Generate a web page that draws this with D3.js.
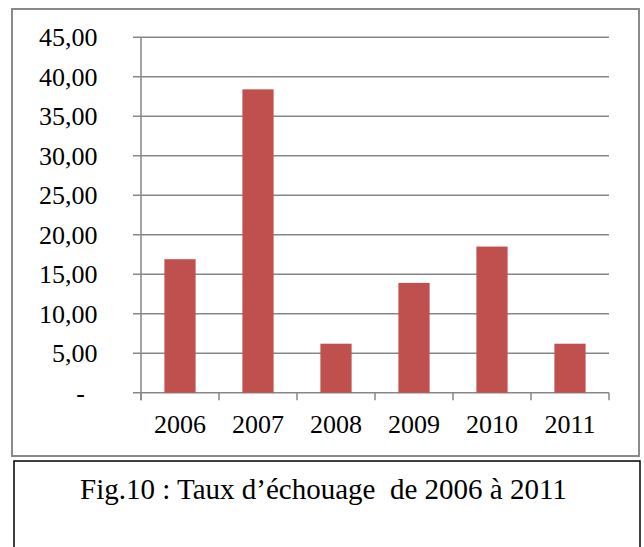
<!DOCTYPE html>
<html>
<head>
<meta charset="utf-8">
<script src="https://cdn.jsdelivr.net/npm/d3@7"></script>
<style>
  body { margin: 0; background: #fff; }
  svg { display: block; }
</style>
</head>
<body>
<script>
"use strict";

var years = ["2006", "2007", "2008", "2009", "2010", "2011"];
var rates = [16.9, 38.4, 6.2, 13.9, 18.5, 6.2];
var yTicks = [0, 5, 10, 15, 20, 25, 30, 35, 40, 45];
var yTickLabels = ["-", "5,00", "10,00", "15,00", "20,00", "25,00", "30,00", "35,00", "40,00", "45,00"];
var caption = "Fig.10 : Taux d\u2019échouage\u00a0 de 2006 à 2011";

var serif = "'Liberation Serif', 'Times New Roman', Times, serif";
var width = 644, height = 547;
var plot = { left: 141, right: 609, top: 37.2, bottom: 392.7 };

var svg = d3.select("body").append("svg")
    .attr("width", width)
    .attr("height", height);

// outer chart frame
svg.append("rect")
    .attr("x", 12).attr("y", 9)
    .attr("width", 627).attr("height", 447)
    .attr("fill", "none")
    .attr("stroke", "#8a8a8a")
    .attr("stroke-width", 2);

// caption frame
svg.append("rect")
    .attr("x", 14).attr("y", 461)
    .attr("width", 626).attr("height", 120)
    .attr("fill", "none")
    .attr("stroke", "#000")
    .attr("stroke-width", 1.5);

var x = d3.scaleBand()
    .domain(years)
    .range([plot.left, plot.right])
    .paddingInner(0.6)
    .paddingOuter(0.3);

var xCat = d3.scaleBand()
    .domain(years)
    .range([plot.left, plot.right])
    .padding(0);

var y = d3.scaleLinear()
    .domain([0, 45])
    .range([plot.bottom, plot.top]);

// gridlines
svg.append("g")
    .selectAll("line")
    .data(yTicks)
    .enter().append("line")
    .attr("x1", plot.left - 8)
    .attr("x2", plot.right)
    .attr("y1", function(d) { return y(d); })
    .attr("y2", function(d) { return y(d); })
    .attr("stroke", "#878787")
    .attr("stroke-width", 1.5);

// bars
svg.append("g")
    .selectAll("rect")
    .data(rates)
    .enter().append("rect")
    .attr("x", function(d, i) { return x(years[i]); })
    .attr("y", function(d) { return y(d); })
    .attr("width", x.bandwidth())
    .attr("height", function(d) { return y(0) - y(d); })
    .attr("fill", "#C0504D");

// y axis line
svg.append("line")
    .attr("x1", plot.left).attr("x2", plot.left)
    .attr("y1", plot.top).attr("y2", plot.bottom + 7.5)
    .attr("stroke", "#878787")
    .attr("stroke-width", 1.5);

// x category ticks
var xTickPos = years.map(function(d) { return xCat(d); }).concat([plot.right]);
svg.append("g")
    .selectAll("line")
    .data(xTickPos)
    .enter().append("line")
    .attr("x1", function(d) { return d; })
    .attr("x2", function(d) { return d; })
    .attr("y1", plot.bottom)
    .attr("y2", plot.bottom + 7.5)
    .attr("stroke", "#878787")
    .attr("stroke-width", 1.5);

// y tick labels
svg.append("g")
    .selectAll("text")
    .data(yTicks)
    .enter().append("text")
    .attr("x", function(d, i) { return yTickLabels[i] === "-" ? 85 : 97.5; })
    .attr("y", function(d) { return y(d); })
    .attr("dy", "0.35em")
    .attr("text-anchor", "end")
    .attr("font-family", serif)
    .attr("font-size", 26)
    .text(function(d, i) { return yTickLabels[i]; });

// x tick labels
svg.append("g")
    .selectAll("text")
    .data(years)
    .enter().append("text")
    .attr("x", function(d) { return xCat(d) + xCat.bandwidth() / 2; })
    .attr("y", 433)
    .attr("text-anchor", "middle")
    .attr("font-family", serif)
    .attr("font-size", 26)
    .text(function(d) { return d; });

svg.append("text")
    .attr("x", 80)
    .attr("y", 499)
    .attr("font-family", serif)
    .attr("font-size", 29)
    .text(caption);
</script>
</body>
</html>
